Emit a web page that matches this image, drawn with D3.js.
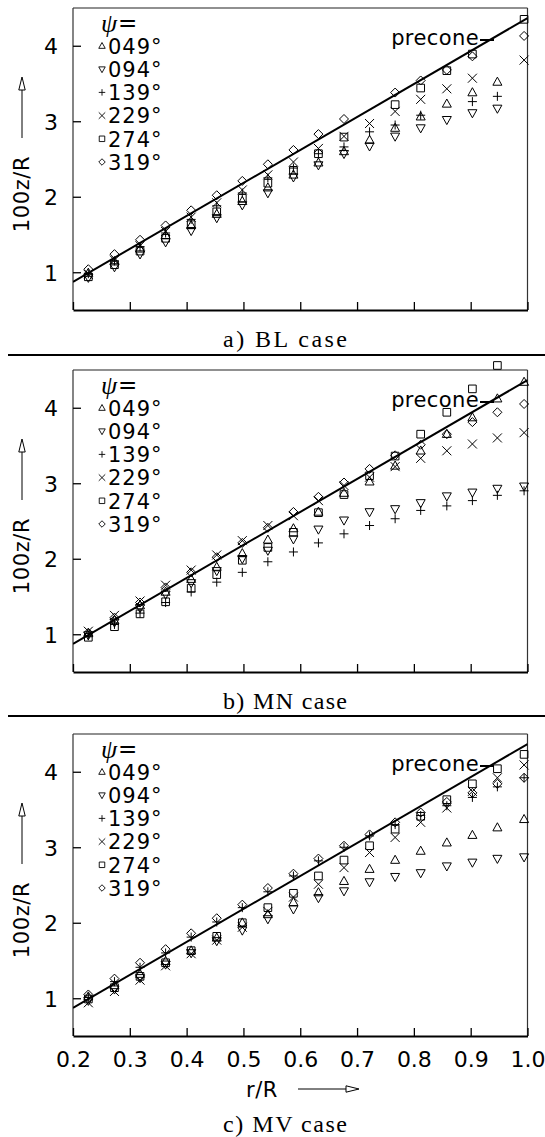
<!DOCTYPE html>
<html>
<head>
<meta charset="utf-8">
<script src="https://cdn.jsdelivr.net/npm/d3@7"></script>
<style>
  html, body { margin: 0; padding: 0; background: #fff; }
  svg { display: block; }
  .sans { font-family: "DejaVu Sans", sans-serif; }
  .serif { font-family: "Liberation Serif", "DejaVu Serif", serif; }
</style>
</head>
<body>
<svg id="chart" width="545" height="1137"></svg>
<script>
// Radial stations r/R
const rStations = [0.227, 0.273, 0.318, 0.363, 0.408, 0.453, 0.498, 0.543, 0.588,
                   0.632, 0.677, 0.722, 0.767, 0.812, 0.858, 0.903, 0.947, 0.994];

const xTicks = [0.2, 0.3, 0.4, 0.5, 0.6, 0.7, 0.8, 0.9, 1.0];
const xTickLabels = ["0.2", "0.3", "0.4", "0.5", "0.6", "0.7", "0.8", "0.9", "1.0"];
const yTicks = [1, 2, 3, 4];
const yTickLabels = ["1", "2", "3", "4"];

const psiLabels = ["049°", "094°", "139°", "229°", "274°", "319°"];
const symbolKinds = ["triUp", "triDown", "plus", "cross", "square", "diamond"];
const caseLabels = ["a) BL case", "b) MN case", "c) MV case"];

// Precone reference line (two end points)
const preconeR = [0.2, 1.0];
const preconeZ = [0.873, 4.366];

// a) BL case, 100z/R per azimuth
const bl049 = [0.99, 1.14, 1.31, 1.49, 1.62, 1.77, 1.94, 2.12, 2.29, 2.45, 2.60, 2.75, 2.91, 3.06, 3.23, 3.38, 3.52, null];
const bl094 = [0.93, 1.07, 1.24, 1.40, 1.55, 1.72, 1.89, 2.05, 2.26, 2.42, 2.57, 2.67, 2.80, 2.91, 3.02, 3.11, 3.17, null];
const bl139 = [0.98, 1.15, 1.34, 1.52, 1.70, 1.88, 2.05, 2.25, 2.38, 2.57, 2.66, 2.86, 2.95, 3.08, null, 3.26, 3.33, null];
const bl229 = [0.97, 1.16, 1.35, 1.54, 1.73, 1.92, 2.09, 2.29, 2.46, 2.64, 2.80, 2.97, 3.13, 3.29, 3.43, 3.57, null, 3.81];
const bl274 = [0.94, 1.10, 1.28, 1.45, 1.63, 1.80, 1.98, 2.18, 2.35, 2.57, 2.79, null, 3.22, 3.44, 3.67, 3.89, null, 4.35];
const bl319 = [1.04, 1.24, 1.43, 1.62, 1.82, 2.02, 2.21, 2.43, 2.62, 2.83, 3.03, null, 3.38, 3.54, 3.68, 3.86, null, 4.13];

// b) MN case
const mn049 = [1.01, 1.18, 1.38, 1.56, 1.73, 1.89, 2.07, 2.25, 2.40, 2.62, 2.87, 3.02, 3.23, 3.43, 3.65, 3.87, 4.12, 4.34];
const mn094 = [0.99, 1.16, 1.35, 1.53, 1.68, 1.84, 2.00, 2.11, 2.26, 2.39, 2.51, 2.62, 2.66, 2.74, 2.83, 2.88, 2.93, 2.96];
const mn139 = [0.98, 1.13, 1.28, 1.42, 1.56, 1.69, 1.82, 1.96, 2.09, 2.21, 2.33, 2.44, 2.53, 2.64, 2.70, 2.77, 2.84, 2.90];
const mn229 = [1.04, 1.25, 1.44, 1.65, 1.85, 2.05, 2.24, 2.44, 2.57, 2.77, 2.97, 3.08, 3.22, 3.33, 3.43, 3.52, 3.60, 3.67];
const mn274 = [0.96, 1.10, 1.27, 1.43, 1.61, 1.79, 1.98, 2.15, 2.35, 2.61, 2.85, 3.10, 3.36, 3.65, 3.94, 4.25, 4.56, null];
const mn319 = [1.02, 1.22, 1.42, 1.62, 1.82, 2.02, 2.21, 2.41, 2.62, 2.82, 3.01, 3.19, 3.37, 3.51, 3.65, 3.81, 3.94, 4.05];

// c) MV case
const mv049 = [1.02, 1.17, 1.32, 1.49, 1.63, 1.80, 2.00, 2.11, 2.27, 2.40, 2.55, 2.71, 2.83, 2.95, 3.06, 3.16, 3.26, 3.37];
const mv094 = [0.97, 1.12, 1.27, 1.45, 1.60, 1.76, 1.90, 2.05, 2.18, 2.33, 2.42, 2.54, 2.61, 2.66, 2.75, 2.80, 2.85, 2.87];
const mv139 = [1.01, 1.22, 1.41, 1.60, 1.81, 2.01, 2.20, 2.41, 2.62, 2.82, 3.00, 3.15, 3.30, 3.42, 3.55, 3.66, 3.80, 3.92];
const mv229 = [0.94, 1.09, 1.24, 1.43, 1.59, 1.77, 1.94, 2.15, 2.34, 2.51, 2.73, 2.93, 3.13, 3.33, 3.52, 3.74, 3.92, 4.09];
const mv274 = [0.99, 1.14, 1.29, 1.47, 1.63, 1.82, 2.00, 2.20, 2.39, 2.62, 2.83, 3.02, 3.24, 3.41, 3.63, 3.84, 4.04, 4.23];
const mv319 = [1.05, 1.26, 1.47, 1.65, 1.86, 2.06, 2.24, 2.46, 2.65, 2.85, 3.02, 3.17, 3.33, 3.46, 3.60, 3.72, 3.84, 3.92];

const panelSeries = [
  [bl049, bl094, bl139, bl229, bl274, bl319],
  [mn049, mn094, mn139, mn229, mn274, mn319],
  [mv049, mv094, mv139, mv229, mv274, mv319]
];

// ---- layout ----
const svg = d3.select("#chart");
const plotLeft = 73, plotRight = 527.5;
const panelTops = [8, 370, 734];
const panelHeight = 302;

const x = d3.scaleLinear().domain([0.2, 1.0]).range([plotLeft, plotRight]);

// Outline symbol shapes; size = full width in px squared (d3 symbol convention)
const symbolTypes = {
  triUp: { draw(ctx, size) { const w = Math.sqrt(size), h = w * 0.9;
    ctx.moveTo(0, -h * 0.6); ctx.lineTo(w / 2, h * 0.4); ctx.lineTo(-w / 2, h * 0.4); ctx.closePath(); } },
  triDown: { draw(ctx, size) { const w = Math.sqrt(size), h = w * 0.9;
    ctx.moveTo(0, h * 0.6); ctx.lineTo(w / 2, -h * 0.4); ctx.lineTo(-w / 2, -h * 0.4); ctx.closePath(); } },
  plus: { draw(ctx, size) { const r = Math.sqrt(size) / 2;
    ctx.moveTo(-r, 0); ctx.lineTo(r, 0); ctx.moveTo(0, -r); ctx.lineTo(0, r); } },
  cross: { draw(ctx, size) { const r = Math.sqrt(size) / 2;
    ctx.moveTo(-r, -r); ctx.lineTo(r, r); ctx.moveTo(-r, r); ctx.lineTo(r, -r); } },
  square: { draw(ctx, size) { const r = Math.sqrt(size) / 2 * 0.85;
    ctx.rect(-r, -r, 2 * r, 2 * r); } },
  diamond: { draw(ctx, size) { const r = Math.sqrt(size) / 2;
    ctx.moveTo(0, -r); ctx.lineTo(r, 0); ctx.lineTo(0, r); ctx.lineTo(-r, 0); ctx.closePath(); } }
};

function arrowHead(g, tipX, tipY, dir) {
  // open triangular arrow head; dir: "up" or "right"
  const L = 13, W = 3.2;
  const pts = dir === "up"
    ? [[tipX, tipY], [tipX - W, tipY + L], [tipX + W, tipY + L]]
    : [[tipX, tipY], [tipX - L, tipY - W], [tipX - L, tipY + W]];
  g.append("path")
    .attr("d", d3.line()(pts) + "Z")
    .attr("fill", "#fff").attr("stroke", "#000").attr("stroke-width", 1);
}

panelSeries.forEach((series, p) => {
  const top = panelTops[p];
  const bottom = top + panelHeight;
  const y = d3.scaleLinear().domain([0.5, 4.5]).range([bottom, top]);
  const g = svg.append("g");

  // frame
  g.append("line").attr("x1", plotLeft).attr("x2", plotRight).attr("y1", top).attr("y2", top)
    .attr("stroke", "#222").attr("stroke-width", 1.2);
  g.append("line").attr("x1", plotLeft).attr("x2", plotLeft).attr("y1", top).attr("y2", bottom)
    .attr("stroke", "#333").attr("stroke-width", 1.2);
  g.append("line").attr("x1", plotRight).attr("x2", plotRight).attr("y1", top).attr("y2", bottom)
    .attr("stroke", "#333").attr("stroke-width", 1.2);

  // bottom axis with inward ticks
  const xAxis = d3.axisBottom(x).tickValues(xTicks).tickSizeInner(-8).tickSizeOuter(0)
    .tickFormat((d, i) => p === 2 ? xTickLabels[i] : "");
  const xg = g.append("g").attr("transform", `translate(0,${bottom})`).call(xAxis);
  xg.select(".domain").attr("stroke", "#000").attr("stroke-width", 2.2);
  xg.selectAll(".tick line").attr("stroke", "#000").attr("stroke-width", 1.3);
  xg.selectAll(".tick text").attr("class", "sans").attr("font-size", 22)
    .attr("fill", "#000").attr("dy", "0").attr("y", 31);

  // left axis with inward ticks
  const yAxis = d3.axisLeft(y).tickValues(yTicks).tickSizeInner(-8).tickSizeOuter(0)
    .tickFormat((d, i) => yTickLabels[i]);
  const yg = g.append("g").attr("transform", `translate(${plotLeft},0)`).call(yAxis);
  yg.select(".domain").remove();
  yg.selectAll(".tick line").attr("stroke", "#000").attr("stroke-width", 1.3);
  yg.selectAll(".tick text").attr("class", "sans").attr("font-size", 22)
    .attr("fill", "#000").attr("x", -15).attr("dy", "0.36em");

  // y-axis title with arrow
  const lblX = 22;
  g.append("text").attr("class", "sans").attr("font-size", 21)
    .attr("transform", `translate(${lblX + 7},${top + 186}) rotate(-90)`)
    .attr("text-anchor", "middle").attr("letter-spacing", 0.6).text("100z/R");
  g.append("line").attr("x1", lblX).attr("x2", lblX).attr("y1", top + 82).attr("y2", top + 130)
    .attr("stroke", "#000").attr("stroke-width", 1);
  arrowHead(g, lblX, top + 69, "up");

  // precone line
  const clipId = "clip" + p;
  g.append("clipPath").attr("id", clipId).append("rect")
    .attr("x", plotLeft).attr("y", top).attr("width", plotRight - plotLeft).attr("height", panelHeight);
  g.append("path")
    .attr("clip-path", `url(#${clipId})`)
    .attr("d", d3.line().x(d => x(d[0])).y(d => y(d[1]))(preconeR.map((r, i) => [r, preconeZ[i]])))
    .attr("stroke", "#000").attr("stroke-width", 2).attr("fill", "none");

  // precone label with leader dash
  g.append("text").attr("class", "sans").attr("font-size", 21)
    .attr("x", 479).attr("y", top + 37).attr("text-anchor", "end").attr("letter-spacing", 0.4)
    .text("precone");
  g.append("line").attr("x1", 480).attr("x2", 494).attr("y1", top + 32).attr("y2", top + 32)
    .attr("stroke", "#000").attr("stroke-width", 2);

  // data markers
  series.forEach((vals, s) => {
    const sym = d3.symbol().type(symbolTypes[symbolKinds[s]]).size(81);
    g.append("g").selectAll("path")
      .data(vals.map((v, i) => ({ r: rStations[i], v })).filter(d => d.v !== null))
      .join("path")
      .attr("transform", d => `translate(${x(d.r)},${y(d.v)})`)
      .attr("d", sym)
      .attr("fill", "none").attr("stroke", "#000").attr("stroke-width", 1);
  });

  // legend
  const lg = g.append("g");
  lg.append("text").attr("class", "serif").attr("font-style", "italic").attr("font-size", 26)
    .attr("x", 101).attr("y", top + 24).text("ψ");
  lg.append("text").attr("class", "sans").attr("font-size", 23)
    .attr("x", 118).attr("y", top + 23).text("=");
  psiLabels.forEach((lab, s) => {
    const cy = top + 38 + s * 23.2;
    const sym = d3.symbol().type(symbolTypes[symbolKinds[s]]).size(42);
    lg.append("path").attr("transform", `translate(${102},${cy})`).attr("d", sym)
      .attr("fill", "none").attr("stroke", "#000").attr("stroke-width", 0.9);
    lg.append("text").attr("class", "sans").attr("font-size", 21).attr("letter-spacing", 1)
      .attr("x", 108).attr("y", cy + 7.8).text(lab);
  });

  // caption
  const capY = p === 2 ? bottom + 96 : bottom + 37;
  g.append("text").attr("class", "serif").attr("font-size", 24)
    .attr("x", 285).attr("y", capY).attr("text-anchor", "middle")
    .attr("textLength", 124).attr("lengthAdjust", "spacing")
    .text(caseLabels[p]);
});

// separators between panels
[355, 716].forEach(yy => {
  svg.append("line").attr("x1", 8).attr("x2", 545).attr("y1", yy).attr("y2", yy)
    .attr("stroke", "#000").attr("stroke-width", 2);
});

// x-axis title with arrow
svg.append("text").attr("class", "sans").attr("font-size", 21)
  .attr("x", 262).attr("y", 1097).attr("text-anchor", "middle").attr("letter-spacing", 0.6).text("r/R");
svg.append("line").attr("x1", 298).attr("x2", 346).attr("y1", 1089).attr("y2", 1089)
  .attr("stroke", "#000").attr("stroke-width", 1);
arrowHead(svg, 359, 1089, "right");
</script>
</body>
</html>
